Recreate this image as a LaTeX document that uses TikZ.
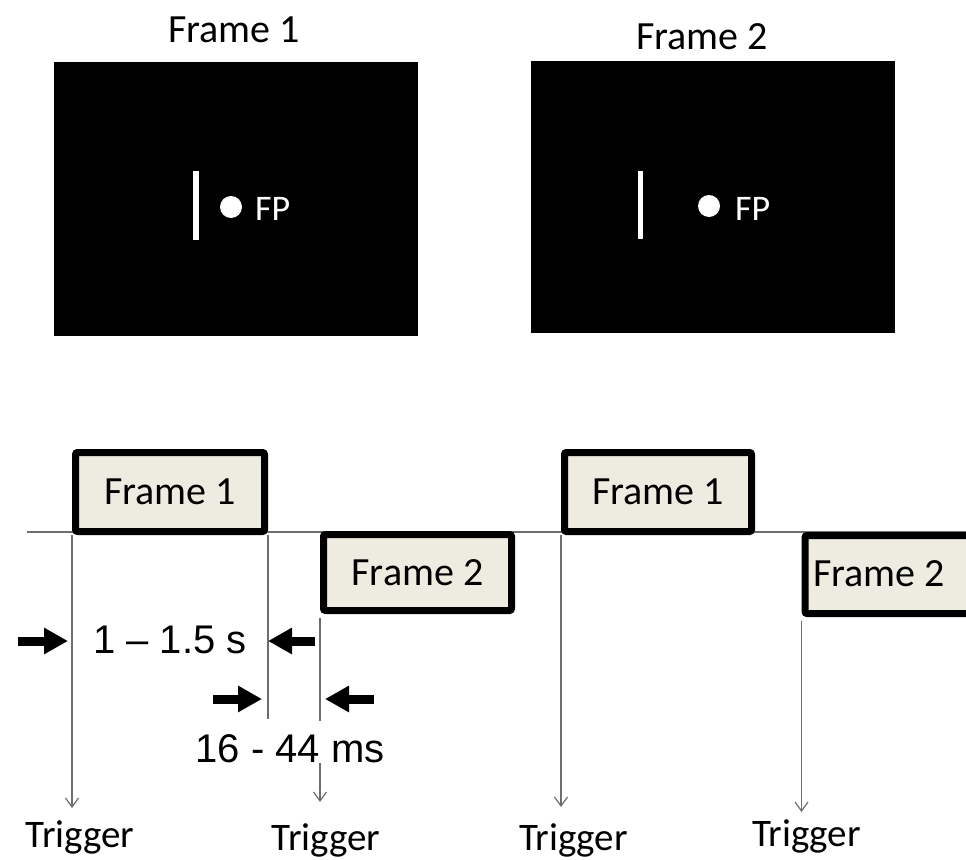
\documentclass[tikz,border=0pt]{standalone}
\usepackage{fontspec}
\setmainfont{Carlito}
\newfontfamily\arialf{Liberation Sans}
\usetikzlibrary{arrows.meta}
\definecolor{boxfill}{HTML}{EEECE1}
\definecolor{thin}{HTML}{6E6E6E}
\tikzset{
  screen/.style={fill=black,draw=none},
  fbox/.style={draw=black,fill=boxfill,line width=7pt,rounded corners=2pt,inner sep=0pt,font=\fontsize{40}{44}\selectfont},
  thinline/.style={draw=thin,line width=1.2pt},
  trig/.style={thinline,-{Straight Barb[length=9pt,width=13pt]}},
  blockarrow/.style={line width=9pt,-{Triangle[length=24pt,width=25pt]}},
  trigtxt/.style={anchor=base,font=\fontsize{39}{44}\selectfont,inner sep=0pt},
  title/.style={anchor=base,font=\fontsize{40}{44}\selectfont,inner sep=0pt},
  fptxt/.style={anchor=base west,text=white,font=\fontsize{36}{40}\selectfont,inner sep=0pt},
  durtxt/.style={anchor=base,font=\arialf\fontsize{40}{44}\selectfont,inner sep=0pt},
}
\begin{document}
\begin{tikzpicture}[x=1pt,y=-1pt]
\useasboundingbox (0,0) rectangle (966,859);
\clip (0,0) rectangle (966,859);

% top screens
\node[title] (t1) at (234,43) {Frame 1};
\node[title] (t2) at (702,50) {Frame 2};
\path[screen] (53.5,62) rectangle (418,336);
\path[screen] (531,61) rectangle (895,333);
\fill[white] (193,171) rectangle (198.5,240);
\fill[white] (231,207) circle (11);
\node[fptxt] (fp1) at (255,220) {FP};
\fill[white] (637.5,171) rectangle (643,239);
\fill[white] (709,206) circle (11);
\node[fptxt] (fp2) at (735,220) {FP};

% timeline
\coordinate (tl0) at (27,532);
\coordinate (tl1) at (966,532);
\draw[thinline] (tl0) -- (tl1);

% frame boxes
\node[fbox,minimum width=189pt,minimum height=79pt] (f1) at (170,492) {Frame 1};
\node[fbox,minimum width=188pt,minimum height=76pt] (f2) at (417.5,572.5) {Frame 2};
\node[fbox,minimum width=187pt,minimum height=79pt] (f3) at (658,492) {Frame 1};
\node[fbox,minimum width=200pt,minimum height=78pt,anchor=west] (f4) at (801.5,574.5) {};
\node[font=\fontsize{40}{44}\selectfont,inner sep=0pt] (f4t) at (879,574) {Frame 2};

% trigger lines
\coordinate (e1) at (f1.south west |- 0,808);
\coordinate (e2) at (f1.south east |- 0,719);
\coordinate (g3a) at (f2.south west |- 0,721);
\coordinate (g3b) at (f2.south west |- 0,763);
\coordinate (e3) at (f2.south west |- 0,802);
\coordinate (e4) at (f3.south west |- 0,807);
\coordinate (e5) at (f4.south west |- 0,812);
\draw[trig] (f1.south west) -- (e1);
\draw[thinline] (f1.south east) -- (e2);
\draw[thinline] ([yshift=-3.5pt]f2.south west) -- (g3a);
\draw[trig] (g3b) -- (e3);
\draw[trig] (f3.south west) -- (e4);
\draw[trig] ([yshift=-3.5pt]f4.south west) -- (e5);

% durations
\node[durtxt] (d1) at (170,653) {1 – 1.5 s};
\node[durtxt] (d2) at (290,762) {16 - 44 ms};

\coordinate (a1s) at (18,641);   \coordinate (a1e) at (68,641);
\coordinate (a2s) at (315,641);  \coordinate (a2e) at (268,641);
\coordinate (a3s) at (213,699);  \coordinate (a3e) at (262,699);
\coordinate (a4s) at (374,699);  \coordinate (a4e) at (325,699);
\draw[blockarrow] (a1s) -- (a1e);
\draw[blockarrow] (a2s) -- (a2e);
\draw[blockarrow] (a3s) -- (a3e);
\draw[blockarrow] (a4s) -- (a4e);

% trigger labels
\node[trigtxt] (g1) at (80,847) {Trigger};
\node[trigtxt] (g2) at (326,850) {Trigger};
\node[trigtxt] (g3) at (573.5,850) {Trigger};
\node[trigtxt] (g4) at (806.5,846) {Trigger};
\end{tikzpicture}
\end{document}
